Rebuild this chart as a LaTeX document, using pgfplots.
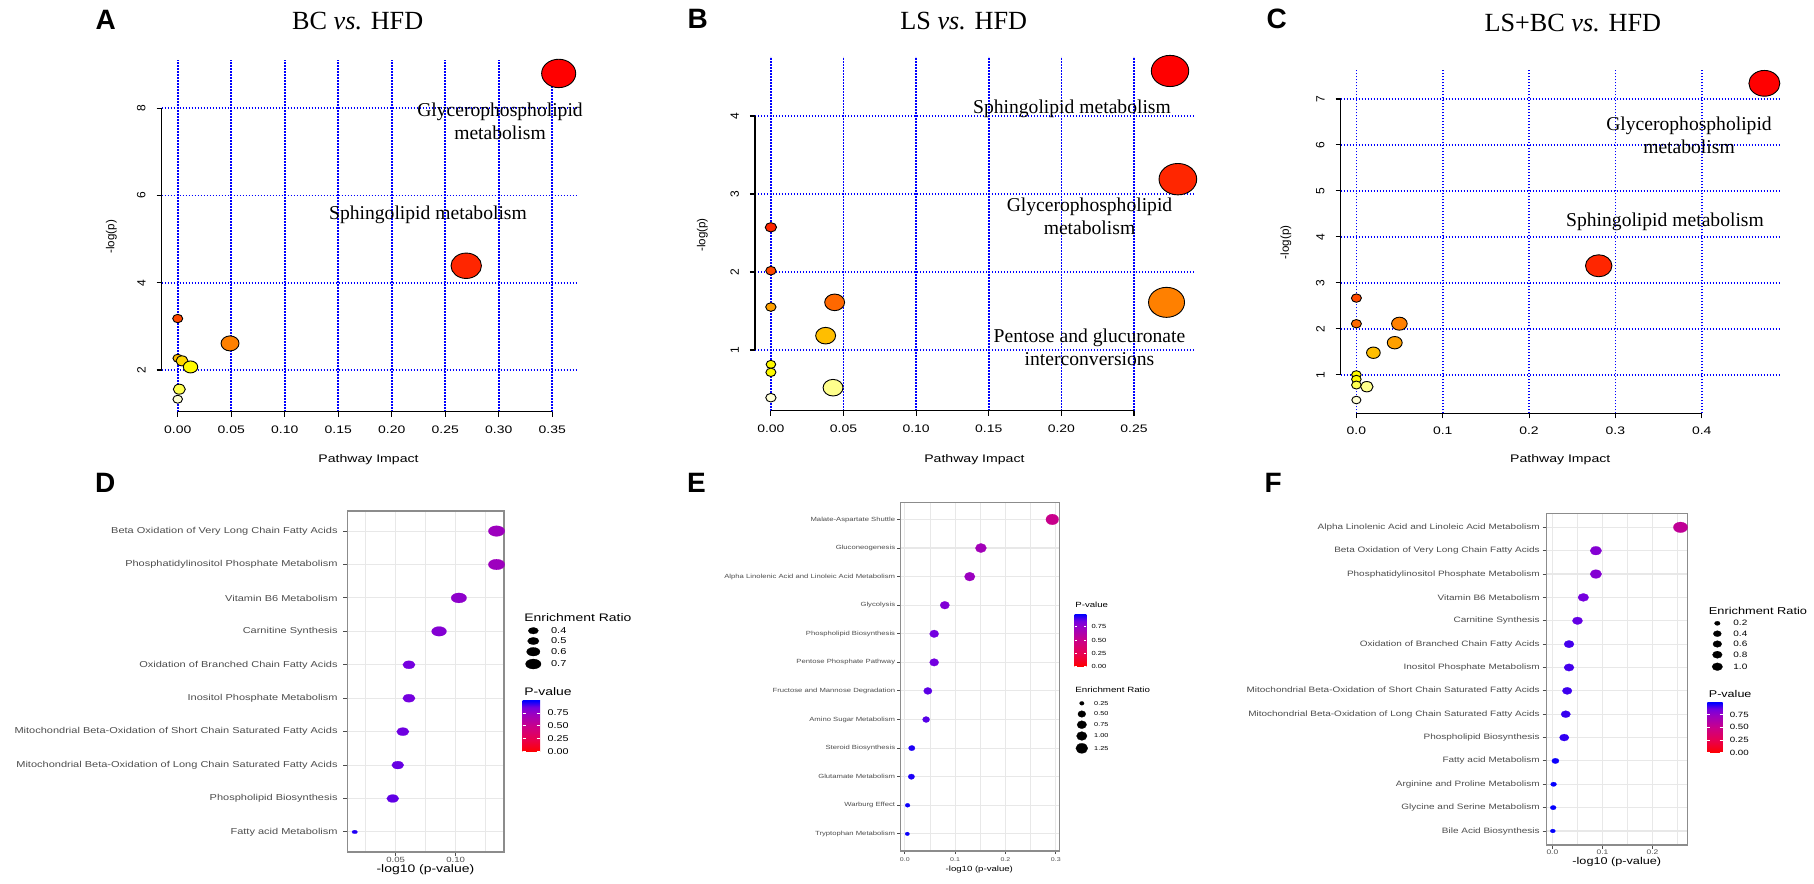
\documentclass[border=0pt]{standalone}
\usepackage{pgfplots}
\pgfplotsset{compat=1.18}
\usepackage{fontspec}
\setmainfont{Liberation Sans}[FakeStretch=1.28]
\newfontfamily\plainsans{Liberation Sans}
\newfontfamily\seriffont{Liberation Serif}

\newcommand\fs[1]{\fontsize{#1}{#1}\selectfont}

\definecolor{ggtext}{RGB}{77,77,77}
\definecolor{ggframe}{RGB}{140,140,140}
\definecolor{gggrid}{RGB}{232,232,232}
\definecolor{pv0}{RGB}{255,0,0}
\definecolor{pv1}{RGB}{232,0,80}
\definecolor{pv2}{RGB}{202,0,137}
\definecolor{pv3}{RGB}{154,0,194}
\definecolor{pv4}{RGB}{115,0,224}
\definecolor{pv5}{RGB}{0,0,255}
\pgfdeclareverticalshading{pval}{100bp}{color(0bp)=(pv0); color(25bp)=(pv0);
  color(37.5bp)=(pv1); color(50bp)=(pv2); color(62.5bp)=(pv3);
  color(68.75bp)=(pv4); color(75bp)=(pv5); color(100bp)=(pv5)}

\pgfplotsset{
  colormap={heat}{rgb255(0cm)=(255,0,0); rgb255(1cm)=(255,38,0); rgb255(2cm)=(255,72,0);
    rgb255(3cm)=(255,104,0); rgb255(4cm)=(255,128,0); rgb255(5cm)=(255,160,0);
    rgb255(6cm)=(255,190,0); rgb255(7cm)=(255,214,0); rgb255(8cm)=(255,250,0);
    rgb255(9cm)=(255,255,80); rgb255(10cm)=(255,255,140); rgb255(11cm)=(255,255,215)},
  colormap={pvalmap}{rgb255(0cm)=(255,0,0); rgb255(2.5cm)=(232,0,80); rgb255(5cm)=(202,0,137);
    rgb255(7.5cm)=(154,0,194); rgb255(8.75cm)=(115,0,224); rgb255(10cm)=(0,0,255)},
  % R style bubble plots (top row)
  rplot/.style={
    scale only axis, clip=false,
    axis x line*=bottom, axis y line*=left,
    axis line style={draw=none},
    tick align=outside, major tick length=2.5pt,
    every tick/.style={black, line width=0.55pt},
    grid=major,
    major grid style={draw=blue, line width=0.85pt, dash pattern=on 0.75pt off 0.75pt},
    /pgf/number format/assume math mode=true,
    xticklabel style={font=\fs{5.45}, anchor=north, inner sep=0pt},
    yticklabel style={font=\plainsans\fs{6}, rotate=90, anchor=south, inner sep=0pt},
    xticklabel shift=4.2pt, yticklabel shift=5.3pt,
    colormap name=heat, point meta min=0, point meta max=11,
  },
  rpts/.style={scatter, only marks, mark=*, point meta=\thisrow{c},
    scatter/use mapped color={draw=black, fill=mapped color},
    visualization depends on={\thisrow{r} \as \rr},
    scatter/@pre marker code/.append style={/tikz/mark size=\rr},
    mark options={xscale=1.2, line width=0.45pt}},
  % ggplot style dot plots (bottom row)
  ggplot/.style={
    scale only axis, clip=false,
    axis line style={draw=ggframe, line width=0.55pt},
    tick align=outside, minor tick length=0pt, tick pos=left,
    every tick/.style={ggtext, line width=0.45pt},
    grid=both,
    major grid style={draw=gggrid, line width=0.55pt},
    minor grid style={draw=gggrid, line width=0.3pt},
    /pgf/number format/assume math mode=true,
    yticklabel style={anchor=east, inner sep=0pt, text=ggtext},
    xticklabel style={anchor=north, inner sep=0pt, text=ggtext},
    colormap name=pvalmap, point meta min=0, point meta max=1,
  },
  ggpts/.style={scatter, only marks, mark=*, point meta=\thisrow{p},
    scatter/use mapped color={draw=mapped color, fill=mapped color},
    visualization depends on={\thisrow{r} \as \rr},
    scatter/@pre marker code/.append style={/tikz/mark size=\rr},
    mark options={xscale=#1, line width=0.1pt}},
  legdots/.style={scatter, only marks, mark=*, point meta=\thisrow{r},
    scatter/use mapped color={draw=black, fill=black},
    visualization depends on={\thisrow{r} \as \rr},
    scatter/@pre marker code/.append style={/tikz/mark size=\rr},
    mark options={xscale=#1, line width=0.1pt}},
}

\begin{document}
\begin{tikzpicture}
\useasboundingbox (0,0) rectangle (907pt,-441.5pt);

% ---------- A ----------
\begin{axis}[rplot, at={(80.75pt,-30pt)}, anchor=north west,
  width=207.15pt, height=175.85pt,
  xmin=-0.01514, xmax=0.372, ymin=1.044, ymax=9.108,
  xtick={0,0.05,0.1,0.15,0.2,0.25,0.3,0.35}, ytick={2,4,6,8},
  xticklabel style={/pgf/number format/.cd, fixed, fixed zerofill, precision=2}]
\addplot[rpts] table[row sep=\\] {
x y r c\\
0.356 8.80 7.1 0\\
0.2696 4.39 6.35 1\\
0 3.18 2.1 2\\
0.0489 2.61 3.75 4\\
0 2.27 2.0 6\\
0.004 2.21 2.5 7\\
0.012 2.07 3.0 8\\
0.0015 1.56 2.5 9\\
0 1.33 2.0 11\\
};
\draw[line width=0.7pt] (axis cs:0,1.044) -- (axis cs:0.35,1.044);
\draw[line width=0.7pt] (axis cs:-0.01514,2) -- (axis cs:-0.01514,8);
\end{axis}

% ---------- B ----------
\begin{axis}[rplot, at={(377.45pt,-28.35pt)}, anchor=north west,
  width=220.05pt, height=177pt,
  xmin=-0.011, xmax=0.292, ymin=0.222, ymax=4.76,
  xtick={0,0.05,0.1,0.15,0.2,0.25}, ytick={1,2,3,4},
  xticklabel style={/pgf/number format/.cd, fixed, fixed zerofill, precision=2}]
\addplot[rpts] table[row sep=\\] {
x y r c\\
0.2748 4.577 7.8 0\\
0.2802 3.19 7.85 1\\
0.2724 1.611 7.5 4\\
0 2.573 2.35 1\\
0 2.017 2.15 2\\
0 1.551 2.15 5\\
0.0439 1.611 4.15 3\\
0.0377 1.184 4.15 6\\
0 0.816 2.0 8\\
0 0.714 2.1 8\\
0.0428 0.517 4.15 10\\
0 0.389 2.15 11\\
};
\draw[line width=0.7pt] (axis cs:0,0.222) -- (axis cs:0.25,0.222);
\draw[line width=0.7pt] (axis cs:-0.011,1) -- (axis cs:-0.011,4);
\end{axis}

% ---------- C ----------
\begin{axis}[rplot, at={(670.25pt,-35pt)}, anchor=north west,
  width=220.3pt, height=171.65pt,
  xmin=-0.0184, xmax=0.492, ymin=0.16, ymax=7.63,
  xtick={0,0.1,0.2,0.3,0.4}, ytick={1,2,3,4,5,6,7},
  xticklabel style={/pgf/number format/.cd, fixed, fixed zerofill, precision=1}]
\addplot[rpts] table[row sep=\\] {
x y r c\\
0.4726 7.34 6.45 0\\
0.2807 3.37 5.5 1\\
0 2.667 2.1 2\\
0 2.109 2.1 3\\
0.0498 2.11 3.25 4\\
0.0444 1.696 3.1 5\\
0.0197 1.478 2.85 6\\
0 1.0 2.0 8\\
0 0.9 2.0 8\\
0 0.775 2.0 9\\
0.0121 0.739 2.6 10\\
0 0.449 1.9 11\\
};
\draw[line width=0.7pt] (axis cs:0,0.16) -- (axis cs:0.4,0.16);
\draw[line width=0.7pt] (axis cs:-0.0184,1) -- (axis cs:-0.0184,7);
\end{axis}

% ---------- D ----------
\begin{axis}[ggplot, at={(173.75pt,-255.5pt)}, anchor=north west,
  width=78.25pt, height=170.5pt, major tick length=2.2pt,
  xmin=0.0099, xmax=0.1403, ymin=0.4, ymax=10.6,
  xtick={0.05,0.1}, minor xtick={0.025,0.075,0.125},
  ytick={1,...,10},
  yticklabels={Fatty acid Metabolism, Phospholipid Biosynthesis,
    Mitochondrial Beta-Oxidation of Long Chain Saturated Fatty Acids,
    Mitochondrial Beta-Oxidation of Short Chain Saturated Fatty Acids,
    Inositol Phosphate Metabolism, Oxidation of Branched Chain Fatty Acids,
    Carnitine Synthesis, Vitamin B6 Metabolism,
    Phosphatidylinositol Phosphate Metabolism,
    Beta Oxidation of Very Long Chain Fatty Acids},
  yticklabel style={font=\fs{4.3}}, xticklabel style={font=\fs{3.75},
    /pgf/number format/.cd, fixed, fixed zerofill, precision=2},
  yticklabel shift=2.55pt, xticklabel shift=0.1pt]
\addplot[ggpts=1.55] table[row sep=\\] {
x y p r\\
0.1341 10 0.734 2.65\\
0.1341 9 0.734 2.65\\
0.1027 8 0.789 2.5\\
0.0862 7 0.820 2.4\\
0.0611 6 0.869 2.0\\
0.0611 5 0.869 2.0\\
0.0560 4 0.879 2.0\\
0.0518 3 0.888 1.95\\
0.0476 2 0.896 1.95\\
0.0159 1 0.964 0.9\\
};
\end{axis}

% ---------- E ----------
\begin{axis}[ggplot, at={(450.15pt,-251.15pt)}, anchor=north west,
  width=79.65pt, height=174.35pt, major tick length=1.6pt,
  xmin=-0.0089, xmax=0.3076, ymin=0.4, ymax=12.6,
  xtick={0,0.1,0.2,0.3}, minor xtick={0.05,0.15,0.25},
  ytick={1,...,12},
  yticklabels={Tryptophan Metabolism, Warburg Effect, Glutamate Metabolism,
    Steroid Biosynthesis, Amino Sugar Metabolism,
    Fructose and Mannose Degradation, Pentose Phosphate Pathway,
    Phospholipid Biosynthesis, Glycolysis,
    Alpha Linolenic Acid and Linoleic Acid Metabolism,
    Gluconeogenesis, Malate-Aspartate Shuttle},
  yticklabel style={font=\fs{3.0}}, xticklabel style={font=\fs{2.75},
    /pgf/number format/.cd, fixed, fixed zerofill, precision=1},
  yticklabel shift=0.8pt, xticklabel shift=1.3pt]
\addplot[ggpts=1.2] table[row sep=\\] {
x y p r\\
0.293 12 0.509 2.65\\
0.1512 11 0.706 2.3\\
0.1290 10 0.743 2.2\\
0.0795 9 0.833 1.95\\
0.0584 8 0.874 1.9\\
0.0584 7 0.874 1.9\\
0.0458 6 0.900 1.75\\
0.0424 5 0.907 1.5\\
0.0139 4 0.968 1.35\\
0.0131 3 0.970 1.35\\
0.0056 2 0.987 1.0\\
0.0050 1 0.989 0.9\\
};
\end{axis}

% ---------- F ----------
\begin{axis}[ggplot, at={(773.25pt,-256.65pt)}, anchor=north west,
  width=70.5pt, height=165.85pt, major tick length=2pt,
  xmin=-0.0118, xmax=0.27, ymin=0.4, ymax=14.6,
  xtick={0,0.1,0.2}, minor xtick={0.05,0.15,0.25},
  ytick={1,...,14},
  yticklabels={Bile Acid Biosynthesis, Glycine and Serine Metabolism,
    Arginine and Proline Metabolism, Fatty acid Metabolism,
    Phospholipid Biosynthesis,
    Mitochondrial Beta-Oxidation of Long Chain Saturated Fatty Acids,
    Mitochondrial Beta-Oxidation of Short Chain Saturated Fatty Acids,
    Inositol Phosphate Metabolism, Oxidation of Branched Chain Fatty Acids,
    Carnitine Synthesis, Vitamin B6 Metabolism,
    Phosphatidylinositol Phosphate Metabolism,
    Beta Oxidation of Very Long Chain Fatty Acids,
    Alpha Linolenic Acid and Linoleic Acid Metabolism},
  yticklabel style={font=\fs{3.9}}, xticklabel style={font=\fs{3.3},
    /pgf/number format/.cd, fixed, fixed zerofill, precision=1},
  yticklabel shift=1.25pt, xticklabel shift=0.3pt]
\addplot[ggpts=1.35] table[row sep=\\] {
x y p r\\
0.256 14 0.555 2.65\\
0.0869 13 0.819 2.15\\
0.0869 12 0.819 2.15\\
0.0618 11 0.867 2.0\\
0.0501 10 0.891 1.9\\
0.0332 9 0.926 1.85\\
0.0332 8 0.926 1.85\\
0.0295 7 0.934 1.8\\
0.0266 6 0.941 1.75\\
0.0236 5 0.947 1.75\\
0.0060 4 0.986 1.35\\
0.0023 3 0.995 1.1\\
0.0016 2 0.996 1.1\\
0.0008 1 0.998 0.95\\
};
\end{axis}

% ---------- size legends, in pixel coordinates ----------
\begin{axis}[at={(0pt,0pt)}, anchor=north west, scale only axis,
  width=907pt, height=441.5pt, xmin=0, xmax=1814, ymin=0, ymax=883,
  y dir=reverse, hide axis, clip=false]
\addplot[legdots=1.55] table[row sep=\\] {
x y r\\
533.3 630.7 1.65\\
533.3 641.0 1.85\\
533.3 651.7 2.15\\
533.3 664.0 2.5\\
};
\addplot[legdots=1.2] table[row sep=\\] {
x y r\\
1081.8 703.3 0.95\\
1081.8 714.0 1.65\\
1081.8 724.7 2.0\\
1081.8 736.0 2.2\\
1081.8 748.3 2.5\\
};
\addplot[legdots=1.35] table[row sep=\\] {
x y r\\
1717.3 623.3 1.05\\
1717.3 633.7 1.5\\
1717.3 644.0 1.65\\
1717.3 654.7 1.8\\
1717.3 666.7 1.95\\
};
\end{axis}

% ---------- texts, in pixel coordinates ----------
\begin{scope}[x=0.5pt,y=-0.5pt]
\foreach \l/\x/\y in {A/105.8/20, B/697.7/19.3, C/1276.6/19.3,
    D/105.2/483.3, E/696.4/483.3, F/1273.1/483.3}
  \node[font=\plainsans\fs{14}\bfseries] at (\x,\y) {\l};

\node[font=\seriffont\fs{13.1}] at (357.7,20.7) {BC \textit{vs.} HFD};
\node[font=\seriffont\fs{13.1}] at (963.7,20.7) {LS \textit{vs.} HFD};
\node[font=\seriffont\fs{13.1}] at (1572.8,22.7) {LS+BC \textit{vs.} HFD};

\tikzset{lab/.style={font=\seriffont\fontsize{9.8}{11.35}\selectfont, align=center, inner sep=0pt}}
\node[lab] at (500,121.4) {Glycerophospholipid\\metabolism};
\node[lab] at (428,215) {Sphingolipid metabolism};
\node[lab] at (1072,109) {Sphingolipid metabolism};
\node[lab] at (1089.5,216.4) {Glycerophospholipid\\metabolism};
\node[lab] at (1089.5,347.5) {Pentose and glucuronate\\interconversions};
\node[lab] at (1689,135.4) {Glycerophospholipid\\metabolism};
\node[lab] at (1665,221.7) {Sphingolipid metabolism};

\foreach \x in {368.5, 974.4, 1560.2}
  \node[font=\fs{5.5}] at (\x,459.2) {Pathway Impact};
\node[font=\plainsans\fs{5.8}, rotate=90] at (111.5,236.7) {-log(p)};
\node[font=\plainsans\fs{5.8}, rotate=90] at (702.4,235) {-log(p)};
\node[font=\plainsans\fs{5.8}, rotate=90] at (1285.9,242.3) {-log(p)};

\node[font=\fs{5.45}] at (425.4,869.3) {-log10 (p-value)};
\node[font=\fs{3.75}] at (979.3,870) {-log10 (p-value)};
\node[font=\fs{4.95}] at (1616.8,861.7) {-log10 (p-value)};

% legend D
\node[font=\fs{5.45}, anchor=west, inner sep=0pt] at (524,617.3) {Enrichment Ratio};
\foreach \t/\y in {0.4/630.7, 0.5/641, 0.6/651.7, 0.7/664}
  \node[font=\fs{4.3}, anchor=west, inner sep=0pt] at (550.7,\y) {\t};
\node[font=\fs{5.45}, anchor=west, inner sep=0pt] at (524,691.3) {P-value};
\shade[shading=pval] (522.7,700.7) rectangle (540,751.7);
\foreach \t/\y in {0.75/712.9, 0.50/725.8, 0.25/738.8, 0.00/751.7} {
  \draw[white, line width=0.4pt] (522.7,\y) -- (526.2,\y) (536.5,\y) -- (540,\y);
  \node[font=\fs{4.2}, anchor=west, inner sep=0pt] at (547.3,\y) {\t};}

% legend E
\node[font=\fs{3.75}, anchor=west, inner sep=0pt] at (1075,605) {P-value};
\shade[shading=pval] (1074.5,614.3) rectangle (1086.3,666.7);
\foreach \t/\y in {0.75/626.8, 0.50/640.1, 0.25/653.4, 0.00/666.7} {
  \draw[white, line width=0.35pt] (1074.5,\y) -- (1076.9,\y) (1083.9,\y) -- (1086.3,\y);
  \node[font=\fs{2.95}, anchor=west, inner sep=0pt] at (1091.1,\y) {\t};}
\node[font=\fs{3.8}, anchor=west, inner sep=0pt] at (1075,689.3) {Enrichment Ratio};
\foreach \t/\y in {0.25/703.3, 0.50/714, 0.75/724.7, 1.00/736, 1.25/748.3}
  \node[font=\fs{2.85}, anchor=west, inner sep=0pt] at (1093.8,\y) {\t};

% legend F
\node[font=\fs{5.0}, anchor=west, inner sep=0pt] at (1708.5,610.7) {Enrichment Ratio};
\foreach \t/\y in {0.2/623.3, 0.4/633.7, 0.6/644, 0.8/654.7, 1.0/666.7}
  \node[font=\fs{3.9}, anchor=west, inner sep=0pt] at (1733,\y) {\t};
\node[font=\fs{4.9}, anchor=west, inner sep=0pt] at (1708.5,694) {P-value};
\shade[shading=pval] (1707.4,702.7) rectangle (1722.5,752.7);
\foreach \t/\y in {0.75/714.6, 0.50/727.3, 0.25/740, 0.00/752.7} {
  \draw[white, line width=0.4pt] (1707.4,\y) -- (1710.4,\y) (1719.5,\y) -- (1722.5,\y);
  \node[font=\fs{3.8}, anchor=west, inner sep=0pt] at (1729.4,\y) {\t};}
\end{scope}
\end{tikzpicture}
\end{document}
